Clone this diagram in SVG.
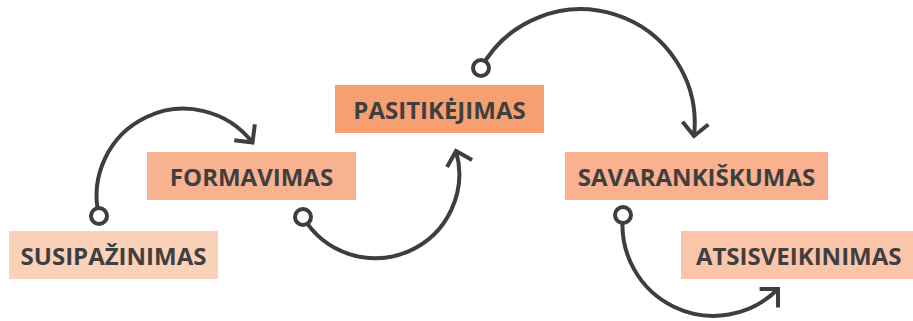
<svg xmlns="http://www.w3.org/2000/svg" width="913" height="321" viewBox="0 0 913 321">
  <defs>
    <marker id="arrow" markerUnits="userSpaceOnUse" markerWidth="40" markerHeight="40" viewBox="-20 -20 40 40" refX="0" refY="0" orient="auto">
      <path d="M-13,-13 L0,0 L-13,13" fill="none" stroke="#3e3e3c" stroke-width="4" stroke-linecap="butt" stroke-linejoin="miter"/>
    </marker>
  </defs>
  <style>
    .lbl { font-family: "Open Sans", "Liberation Sans", sans-serif; font-weight: 700; font-size: 24px; fill: #3f3f3f; text-anchor: middle; }
    .conn { fill: none; stroke: #3e3e3c; stroke-width: 4; marker-end: url(#arrow); }
    .dot { fill: #ffffff; stroke: #3e3e3c; stroke-width: 4; }
  </style>
  <rect width="913" height="321" fill="#ffffff"/>

  <g id="n1">
    <rect x="9" y="231" width="209" height="48" fill="#fcd1b9"/>
    <text class="lbl" x="113.5" y="264.5">SUSIPAŽINIMAS</text>
  </g>
  <g id="n2">
    <rect x="147" y="152" width="209" height="48" fill="#f9b28f"/>
    <text class="lbl" x="251.5" y="185.5">FORMAVIMAS</text>
  </g>
  <g id="n3">
    <rect x="335" y="85" width="209" height="48" fill="#f69f70"/>
    <text class="lbl" x="439.5" y="118.5">PASITIKĖJIMAS</text>
  </g>
  <g id="n4">
    <rect x="565" y="152" width="263" height="48" fill="#f9b18f"/>
    <text class="lbl" x="696.5" y="185.5">SAVARANKIŠKUMAS</text>
  </g>
  <g id="n5">
    <rect x="681" y="231" width="236" height="48" fill="#fbc5a9"/>
    <text class="lbl" x="798.7" y="264.5">ATSISVEIKINIMAS</text>
  </g>

  <g id="connectors">
    <path class="conn" d="M99,216 A87,87 0 0 1 252.5,142.6"/>
    <circle class="dot" cx="99" cy="216" r="8"/>
    <path class="conn" d="M303,217 A84,84 0 0 0 456,151"/>
    <circle class="dot" cx="303" cy="217" r="8"/>
    <path class="conn" d="M481,68 A114,114 0 0 1 694,136"/>
    <circle class="dot" cx="481" cy="68" r="8"/>
    <path class="conn" d="M623,215 A91,91 0 0 0 778,289"/>
    <circle class="dot" cx="623" cy="215" r="8"/>
  </g>
</svg>
